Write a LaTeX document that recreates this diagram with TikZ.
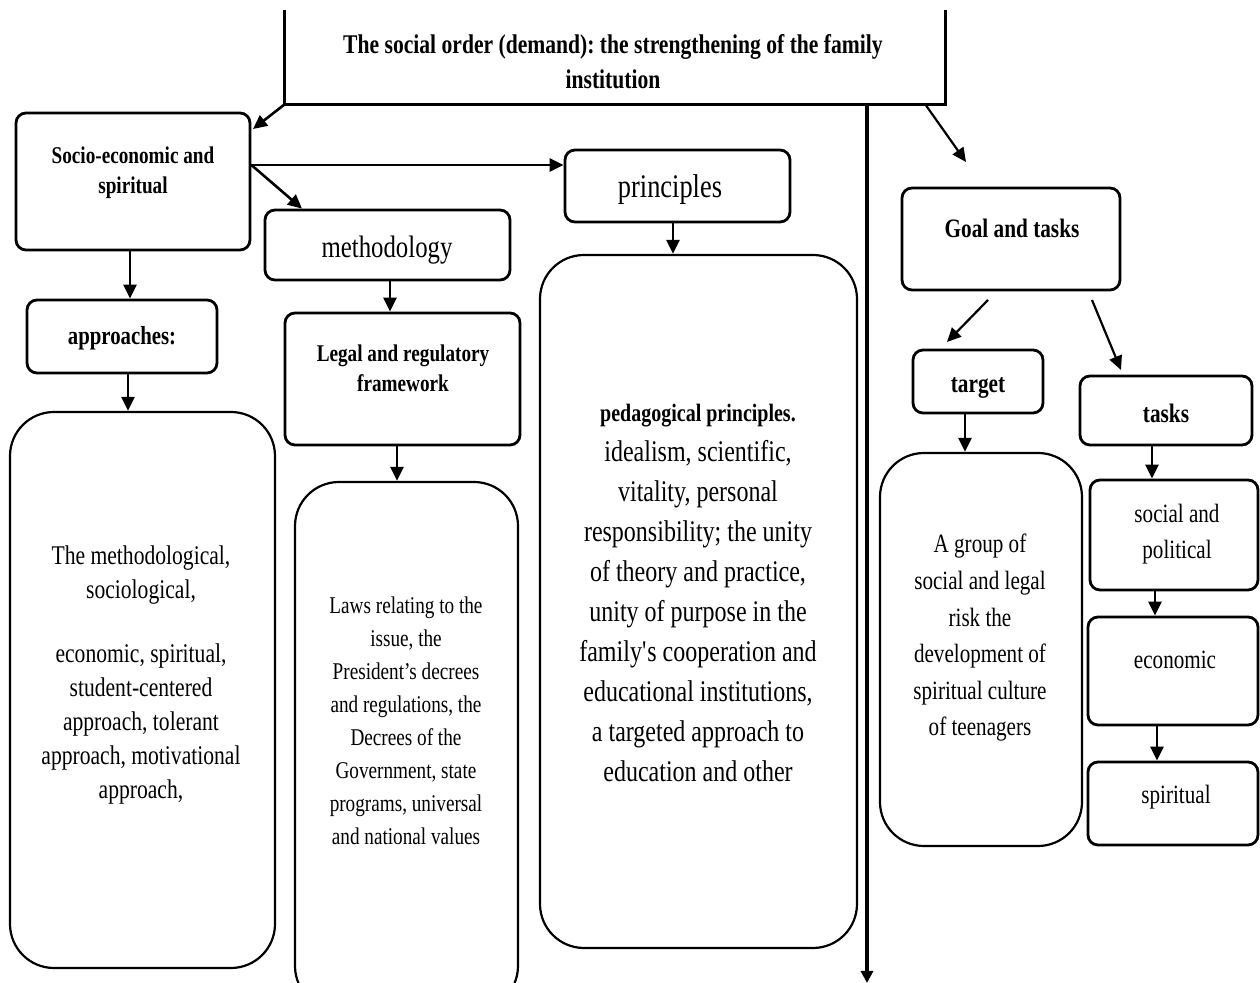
\documentclass[tikz,border=0pt]{standalone}
\usepackage{fontspec}
\setmainfont[FakeStretch=0.8]{Liberation Serif}
\usetikzlibrary{arrows.meta,fit}
\frenchspacing
\begin{document}
\begin{tikzpicture}[x=0.5pt,y=-0.5pt,
  box/.style={draw,line width=1.4pt,rounded corners=5pt,inner sep=0pt},
  bigbox/.style={draw,line width=1.1pt,rounded corners=22pt,inner sep=0pt},
  txt/.style={inner sep=0pt,align=center},
  arr/.style={line width=1.3pt,-{Triangle[length=7pt,width=6.5pt]}},
  thinarr/.style={line width=1.1pt,-{Triangle[length=7pt,width=6.5pt]}},
  titlef/.style={font=\fontsize{13.5}{17.5}\selectfont\bfseries},
  headf/.style={font=\fontsize{12}{15}\selectfont\bfseries},
  headg/.style={font=\fontsize{13.3}{15}\selectfont\bfseries},
  bigf/.style={font=\fontsize{15.5}{18}\selectfont},
  bodya/.style={font=\fontsize{13.5}{17}\selectfont},
  bodyb/.style={font=\fontsize{12}{16.5}\selectfont},
  bodyc/.style={font=\fontsize{15}{20}\selectfont},
  bodyd/.style={font=\fontsize{13.2}{18.3}\selectfont}]
\useasboundingbox (0,0) rectangle (1260,983);
\clip (0,0) rectangle (1260,983);

% top box (open at top)
\node[inner sep=0pt,fit={(285,10)(945,104)}] (top) {};
\draw[line width=1.5pt] (top.north west) -- (top.south west) -- (top.south east) -- (top.north east);
\node[txt,titlef] (top-t) at (613,62)
  {The social order (demand): the strengthening of the family\\institution};

% left branch
\node[box,fit={(16,113)(250,250)}] (socio) {};
\node[txt,headf] (socio-t) at (133,173) {Socio-economic and\\spiritual};
\node[box,fit={(565,150)(790,222)}] (princ) {};
\node[txt,font=\fontsize{16.5}{18}\selectfont] (princ-t) at (670,190) {principles};
\node[box,fit={(265,210)(510,280)}] (meth) {};
\node[txt,bigf] (meth-t) at (387,250) {methodology};
\node[box,fit={(27,300)(217,373)}] (appr) {};
\node[txt,font=\fontsize{13}{15}\selectfont\bfseries] (appr-t) at (122,338) {approaches:};
\node[box,fit={(285,313)(520,445)}] (legal) {};
\node[txt,headf] (legal-t) at (403,368) {Legal and regulatory\\framework};
\node[bigbox,fit={(10,412)(275,968)}] (apprtxt) {};
\node[txt,bodya] (apprtxt-t) at (141,675)
  {The methodological,\\sociological,\\[15pt]economic, spiritual,\\student-centered\\approach, tolerant\\approach, motivational\\approach,};
\node[bigbox,fit={(295,482)(518,1010)}] (laws) {};
\node[txt,bodyb] (laws-t) at (406,721)
  {Laws relating to the\\issue, the\\President’s decrees\\and regulations, the\\Decrees of the\\Government, state\\programs, universal\\and national values};
\node[bigbox,fit={(540,255)(857,948)}] (ped) {};
\node[txt,bodyc] (ped-t) at (698,593)
  {{\fontsize{12.5}{20}\selectfont\bfseries pedagogical principles.}\\idealism, scientific,\\vitality, personal\\responsibility; the unity\\of theory and practice,\\unity of purpose in the\\family\textquotesingle s cooperation and\\educational institutions,\\a targeted approach to\\education and other};

% right branch
\node[box,fit={(902,188)(1120,290)}] (goal) {};
\node[txt,headg] (goal-t) at (1012,228) {Goal and tasks};
\node[box,fit={(913,350)(1043,413)}] (target) {};
\node[txt,headg] (target-t) at (978,388) {target};
\node[box,fit={(1080,376)(1252,445)}] (tasks) {};
\node[txt,headg] (tasks-t) at (1166,413) {tasks};
\node[bigbox,fit={(880,453)(1082,846)}] (tgttxt) {};
\node[txt,bodyd] (tgttxt-t) at (980,638)
  {A group of\\social and legal\\risk the\\development of\\spiritual culture\\of teenagers};
\node[box,fit={(1090,480)(1258,590)}] (socpol) {};
\node[txt,bodyd] (socpol-t) at (1177,534) {social and\\political};
\node[box,fit={(1088,617)(1258,725)}] (econ) {};
\node[txt,bodyd] (econ-t) at (1175,660) {economic};
\node[box,fit={(1088,762)(1258,845)}] (spir) {};
\node[txt,bodyd] (spir-t) at (1176,797) {spiritual};

% free ends
\coordinate (a1) at (253,129);
\coordinate (vend) at (867,983);
\coordinate (g0) at (925,104);
\coordinate (g1) at (966,162);
\coordinate (t0) at (988,300);
\coordinate (t1) at (947,342);
\coordinate (k0) at (1092,300);
\coordinate (k1) at (1121,370);

% connectors
\draw[arr] (top.south west) -- (a1);
\draw[arr] (socio.east |- 0,165) -- (princ.west |- 0,165);
\draw[arr] (socio.east |- 0,165) -- (meth.north -| 302,0);
\draw[arr] (socio.south -| 130,0) -- (appr.north -| 130,0);
\draw[arr] (appr.south -| 128,0) -- (apprtxt.north -| 128,0);
\draw[arr] (meth.south -| 390,0) -- (legal.north -| 390,0);
\draw[arr] (legal.south -| 397,0) -- (laws.north -| 397,0);
\draw[arr] (princ.south -| 673,0) -- (ped.north -| 673,0);
\draw[line width=2pt,-{Triangle[length=6pt,width=6pt]}] (top.south -| 867,0) -- (vend);
\draw[thinarr] (g0) -- (g1);
\draw[thinarr] (t0) -- (t1);
\draw[thinarr] (k0) -- (k1);
\draw[arr] (target.south -| 965,0) -- (tgttxt.north -| 965,0);
\draw[arr] (tasks.south -| 1152,0) -- (socpol.north -| 1152,0);
\draw[arr] (socpol.south -| 1155,0) -- (econ.north -| 1155,0);
\draw[arr] (econ.south -| 1157,0) -- (spir.north -| 1157,0);
\end{tikzpicture}
\end{document}
